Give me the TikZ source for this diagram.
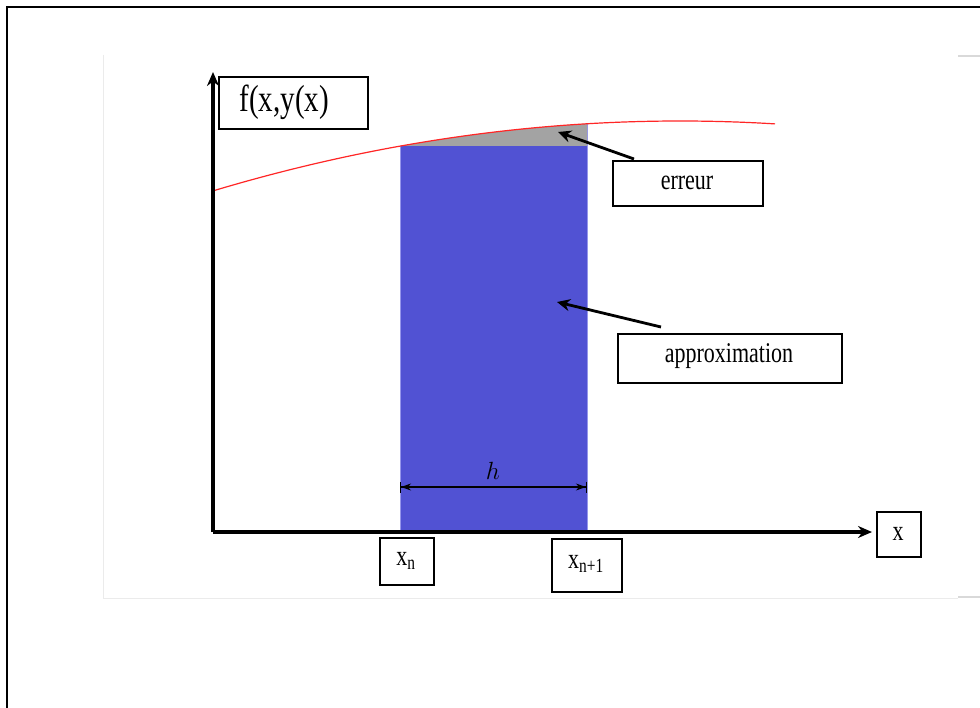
\documentclass[tikz,border=0pt]{standalone}
\usepackage{fontspec}
\setmainfont{Liberation Serif}
\usetikzlibrary{arrows.meta}
\definecolor{rectblue}{RGB}{81,82,211}
\definecolor{edgeblue}{RGB}{150,150,235}
\definecolor{errgray}{RGB}{163,163,163}
\newcommand{\vst}[1]{\scalebox{1}[1.3]{#1}}
\begin{document}
\begin{tikzpicture}[x=1pt,y=-1pt,
  lbl/.style={draw=black,line width=1.6pt,fill=white,inner sep=0pt,anchor=north west},
  ptr/.style={line width=2.8pt,-{Stealth[length=13pt,width=12pt]}},
  txt/.style={font=\fontsize{22}{26}\selectfont}]
\useasboundingbox (0,0) rectangle (980,708);
\fill[white] (0,0) rectangle (980,708);
% outer frame
\draw[line width=2pt] (7,708) -- (7,7) -- (980,7);
% faint inner frame
\draw[black!8,line width=1pt] (103,55) -- (103,598) -- (958,598);
\draw[black!15,line width=2pt] (958,56) -- (980,56);
\draw[black!15,line width=2pt] (958,597) -- (980,597);
% blue rectangle
\fill[rectblue] (400,146) rectangle (587,532);
\draw[edgeblue,line width=0.8pt] (400,146) -- (400,532) (587,124) -- (587,532);
% gray error region
\fill[errgray] (400,146) -- plot[domain=400:587,samples=30] (\x,{121+0.000316*(\x-680)*(\x-680)}) -- (587,146) -- cycle;
% red curve
\draw[red!85,line width=1.2pt] plot[domain=213:775,samples=60] (\x,{121+0.000316*(\x-680)*(\x-680)});
% h dimension
\coordinate (h1) at (400,487);
\coordinate (h2) at (587,487);
\draw[line width=1.1pt,{Bar[width=11pt]Stealth[length=10pt,width=7pt]}-{Stealth[length=10pt,width=7pt]Bar[width=11pt]}] (h1) -- (h2);
\node[font=\fontsize{34}{36}\selectfont] (hl) at (493,471) {$h$};
% axes
\coordinate (O) at (213,532);
\coordinate (Ytop) at (213,72);
\coordinate (Xend) at (872,532);
\draw[line width=3.2pt,-{Stealth[length=14pt,width=12pt]}] (O) -- (Ytop);
\draw[line width=3.2pt,-{Stealth[length=14pt,width=12pt]}] (O) -- (Xend);
% label boxes
\node[lbl,minimum width=149pt,minimum height=52pt] (f) at (218,76) {};
\node[font=\fontsize{29}{32}\selectfont,anchor=west] (ft) at (236,102) {\vst{f(x,y(x)}};
\node[lbl,minimum width=150pt,minimum height=45pt] (err) at (612,160) {};
\node[txt] (errt) at (687,183) {\vst{erreur}};
\node[lbl,minimum width=224pt,minimum height=49pt] (app) at (617,333) {};
\node[txt] (appt) at (729,356) {\vst{approximation}};
\node[lbl,minimum width=54pt,minimum height=47pt] (xn) at (379,537) {};
\node[txt] (xnt) at (406,561) {\vst{x\textsubscript{n}}};
\node[lbl,minimum width=70pt,minimum height=53pt] (xn1) at (551,538) {};
\node[txt] (xn1t) at (586,564) {\vst{x\textsubscript{n+1}}};
\node[lbl,minimum width=44pt,minimum height=45pt] (xb) at (876,511) {};
\node[txt] (xbt) at (898,534) {\vst{x}};
% pointers
\coordinate (errtail) at (634,159);
\coordinate (errhead) at (558,132);
\coordinate (apptail) at (661,327);
\coordinate (apphead) at (557,302);
\draw[ptr] (errtail) -- (errhead);
\draw[ptr] (apptail) -- (apphead);
\end{tikzpicture}
\end{document}
